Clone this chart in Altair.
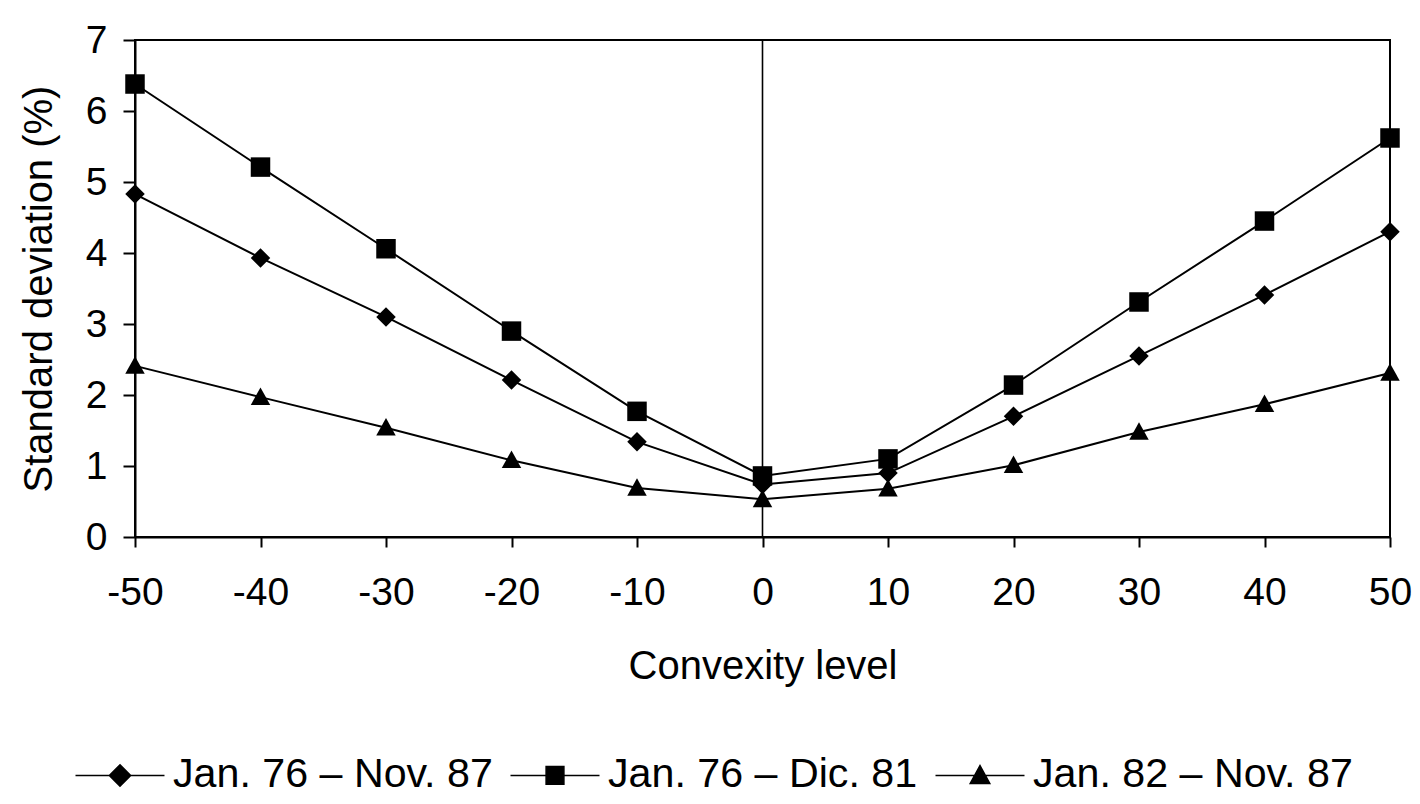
import altair as alt
import pandas as pd

convexity = [-50, -40, -30, -20, -10, 0, 10, 20, 30, 40, 50]
series_names = ["Jan. 76 – Nov. 87", "Jan. 76 – Dic. 81", "Jan. 82 – Nov. 87"]
s_jan76_nov87 = [4.83, 3.93, 3.10, 2.21, 1.34, 0.74, 0.90, 1.70, 2.55, 3.41, 4.30]
s_jan76_dic81 = [6.38, 5.21, 4.06, 2.90, 1.77, 0.86, 1.10, 2.14, 3.31, 4.45, 5.62]
s_jan82_nov87 = [2.41, 1.97, 1.54, 1.08, 0.69, 0.53, 0.68, 1.01, 1.48, 1.87, 2.31]
y_ticks = [0, 1, 2, 3, 4, 5, 6, 7]

rows = []
for name, vals in zip(series_names, [s_jan76_nov87, s_jan76_dic81, s_jan82_nov87]):
    for c, v in zip(convexity, vals):
        rows.append({"series": name, "convexity": c, "sd": v})
df = pd.DataFrame(rows)

# plot markers (filled, no stroke)
diamond = "M0,-1L1,0L0,1L-1,0Z"
square = "M-1,-1H1V1H-1Z"
triangle = "M0,-1L1,0.8L-1,0.8Z"
MARK_SIZE = 380

# legend symbols: a horizontal segment through a filled marker
lg_diamond = "M-2,0H2M0,-0.48L0.48,0L0,0.48L-0.48,0Z"
lg_square = "M-2,0H2M-0.4,-0.4H0.4V0.4H-0.4Z"
lg_triangle = "M-2,0H2M0,-0.44L0.44,0.36L-0.44,0.36Z"
LG_SIZE = 1980

xscale = alt.Scale(domain=[-50, 50], nice=False, zero=False)
yscale = alt.Scale(domain=[0, 7], nice=False)

base = alt.Chart(df)

lines = base.mark_line(color="black", strokeWidth=2).encode(
    x=alt.X("convexity:Q", scale=xscale,
            axis=alt.Axis(values=convexity, title="Convexity level", tickSize=10,
                          labelPadding=26, titlePadding=34, labelExpr="'' + datum.value",
                          labelFlush=False, labelOverlap=False)),
    y=alt.Y("sd:Q", scale=yscale,
            axis=alt.Axis(values=y_ticks, title="Standard deviation (%)", tickSize=12,
                          labelPadding=16, titlePadding=26, labelExpr="'' + datum.value",
                          labelFlush=False, labelOverlap=False)),
    detail="series:N",
)

points = base.mark_point(filled=True, color="black", stroke="transparent", opacity=1,
                         size=MARK_SIZE).encode(
    x="convexity:Q",
    y="sd:Q",
    shape=alt.Shape("series:N",
                    scale=alt.Scale(domain=series_names, range=[diamond, square, triangle]),
                    legend=None),
)

legend_layer = base.transform_filter("false").mark_point(
    filled=True, fill="black", stroke="black", strokeWidth=2, opacity=1, size=LG_SIZE
).encode(
    x="convexity:Q",
    y="sd:Q",
    shape=alt.Shape("series:N",
                    scale=alt.Scale(domain=series_names,
                                    range=[lg_diamond, lg_square, lg_triangle]),
                    legend=alt.Legend(title=None, orient="none", legendX=-38, legendY=712,
                                      direction="horizontal", symbolSize=LG_SIZE,
                                      symbolOpacity=1,
                                      labelFontSize=41.2, labelFont="Liberation Sans",
                                      labelColor="black", labelOffset=30, columnPadding=14,
                                      labelLimit=0)),
)

zero_rule = alt.Chart(pd.DataFrame({"x0": [0]})).mark_rule(color="black", strokeWidth=1.6).encode(
    x=alt.X("x0:Q", scale=xscale)
)

chart = alt.layer(zero_rule, lines, points, legend_layer).resolve_scale(
    shape="independent"
).properties(
    width=1255, height=497,
    background="white",
    autosize=alt.AutoSizeParams(type="none"),
    padding={"left": 127, "top": 32, "right": 22, "bottom": 259},
).configure_view(
    stroke="black", strokeWidth=2
).configure_axis(
    grid=False, domainColor="black", domainWidth=2, tickColor="black", tickWidth=2,
    labelFont="Liberation Sans", labelFontSize=39, labelColor="black",
    titleFont="Liberation Sans", titleFontSize=40, titleFontWeight="normal", titleColor="black",
)

chart.save("out.html", embed_options={"renderer": "svg", "actions": False})
